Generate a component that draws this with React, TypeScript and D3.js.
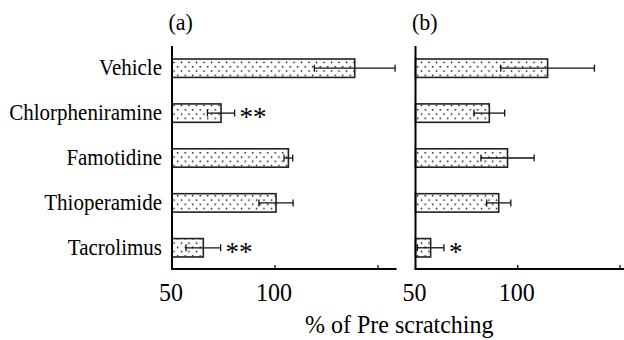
import React from "react";
import * as d3 from "d3";

const categories = ["Vehicle", "Chlorpheniramine", "Famotidine", "Thioperamide", "Tacrolimus"];
const meansA = [138.7, 73.8, 106.5, 100.5, 65.2];
const errA = [19.6, 6.6, 2.1, 8.3, 8.4];
const sigA = ["", "**", "", "", "**"];
const meansB = [114.6, 86.1, 95.0, 90.7, 57.4];
const errB = [22.9, 7.5, 13.0, 5.9, 6.5];
const sigB = ["", "", "", "", "*"];
const xTicks = [50, 100, 150];
const xTickLabels = ["50", "100", ""];
const panelLabels = ["(a)", "(b)"];
const axisTitle = "% of Pre scratching";

const W = 624;
const H = 340;
const FONT = "Liberation Serif";
const TOP = 46;
const BOTTOM = 269;

const y = d3.scaleBand<string>().domain(categories).range([TOP, BOTTOM + 1]).paddingInner(0.59).paddingOuter(0.29);

const panels = [
  { x: d3.scaleLinear().domain([50, 159]).range([172, 172 + 2.06 * 109]), means: meansA, errs: errA, sig: sigA, label: panelLabels[0] },
  { x: d3.scaleLinear().domain([50, 161]).range([415.5, 415.5 + 2.045 * 111]), means: meansB, errs: errB, sig: sigB, label: panelLabels[1] },
];

function SText(props: { x: number; y: number; size: number; anchor?: string; children: React.ReactNode; sy?: number }) {
  const sy = props.sy ?? 1.08;
  return (
    <text
      transform={`translate(${props.x},${props.y}) scale(1,${sy})`}
      fontFamily={FONT}
      style={{ fontFamily: FONT }}
      fontSize={props.size}
      textAnchor={props.anchor ?? "start"}
      fill="#000"
    >
      {props.children}
    </text>
  );
}

export default function App() {
  const bw = y.bandwidth();
  return (
    <svg width={W} height={H} style={{ position: "fixed", left: 0, top: 0, background: "#fff", fontFamily: FONT }}>
      <defs>
        <pattern id="dots" patternUnits="userSpaceOnUse" width={7.5} height={8.6}>
          <rect width={7.5} height={8.6} fill="#fff" />
          <circle cx={1.5} cy={2.2} r={0.85} fill="#000" />
          <circle cx={5.25} cy={6.5} r={0.85} fill="#000" />
        </pattern>
      </defs>
      <rect width={W} height={H} fill="#fff" />
      {categories.map((c) => (
        <SText key={c} x={162} y={(y(c) as number) + bw / 2 + 7} size={21} anchor="end">
          {c}
        </SText>
      ))}
      {panels.map((p, pi) => {
        const x0 = p.x(50);
        const [, x1] = p.x.range();
        return (
          <g key={pi}>
            <SText x={x0 - 3.5} y={30} size={22}>{p.label}</SText>
            {categories.map((c, i) => {
              const yc = (y(c) as number) + bw / 2;
              const xe0 = p.x(p.means[i] - p.errs[i]);
              const xe1 = p.x(p.means[i] + p.errs[i]);
              return (
                <g key={c}>
                  <rect
                    x={x0}
                    y={y(c) as number}
                    width={p.x(p.means[i]) - x0}
                    height={bw}
                    fill="url(#dots)"
                    stroke="#222"
                    strokeWidth={1.6}
                  />
                  <line x1={xe0} x2={xe1} y1={yc} y2={yc} stroke="#111" strokeWidth={1.3} />
                  <line x1={xe0} x2={xe0} y1={yc - 3.5} y2={yc + 3.5} stroke="#111" strokeWidth={1.3} />
                  <line x1={xe1} x2={xe1} y1={yc - 3.5} y2={yc + 3.5} stroke="#111" strokeWidth={1.3} />
                  {p.sig[i] && (
                    <SText x={xe1 + 5} y={yc + 13} size={27} sy={1}>
                      {p.sig[i]}
                    </SText>
                  )}
                </g>
              );
            })}
            <line x1={x0} x2={x0} y1={TOP} y2={BOTTOM + 1} stroke="#000" strokeWidth={2} />
            <line x1={x0} x2={x1} y1={BOTTOM} y2={BOTTOM} stroke="#000" strokeWidth={2} />
            {xTicks.map((t, ti) => (
              <g key={t}>
                <line x1={p.x(t)} x2={p.x(t)} y1={BOTTOM} y2={BOTTOM - 4} stroke="#000" strokeWidth={1.3} />
                {xTickLabels[ti] && (
                  <SText x={p.x(t) - 1} y={300.5} size={24} anchor="middle" sy={1.06}>
                    {xTickLabels[ti]}
                  </SText>
                )}
              </g>
            ))}
          </g>
        );
      })}
      <SText x={305} y={333} size={24} sy={1.06}>{axisTitle}</SText>
    </svg>
  );
}
